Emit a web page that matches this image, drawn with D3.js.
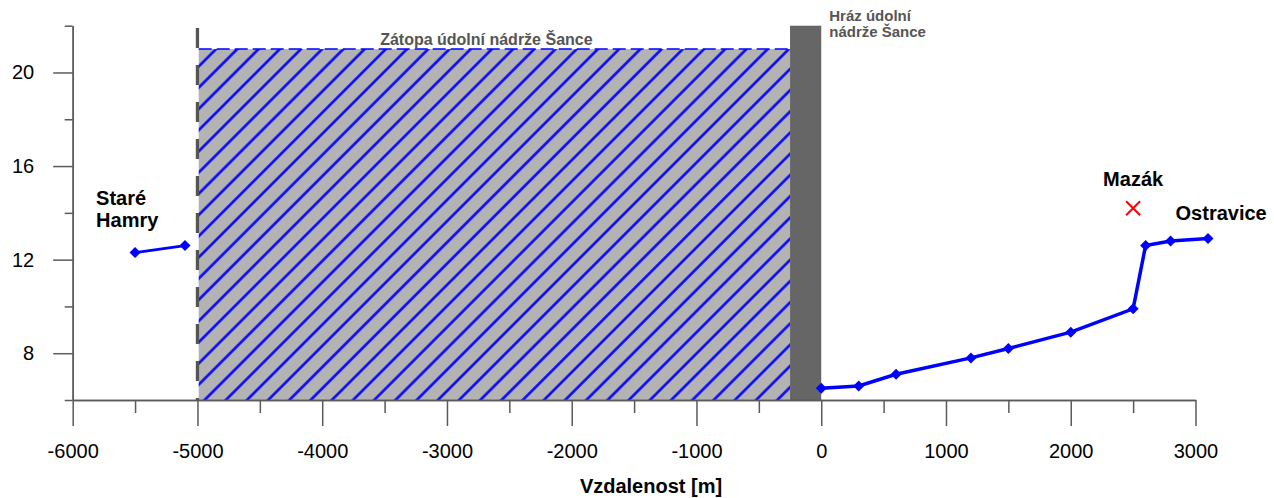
<!DOCTYPE html>
<html>
<head>
<meta charset="utf-8">
<script src="https://cdn.jsdelivr.net/npm/d3@7/dist/d3.min.js"></script>
<style>
  html, body { margin: 0; padding: 0; background: #fff; }
  svg { display: block; font-family: "Liberation Sans", Arial, sans-serif; }
</style>
</head>
<body>
<svg id="chart" width="1274" height="498"></svg>
<script>
// ---- data ----
const upstreamX = [-5500, -5100];
const upstreamY = [12.3, 12.6];
const downstreamX = [0, 300, 600, 1200, 1500, 2000, 2500, 2600, 2800, 3100];
const downstreamY = [6.5, 6.6, 7.1, 7.8, 8.2, 8.9, 9.9, 12.6, 12.8, 12.9];
const mazakX = [2500];
const mazakY = [14.2];
const reservoirX = [-4990, -250];   // Zátopa extent
const reservoirLevel = [21];
const damX = [-250, 0];
const damTop = [22];
const reservoirEdgeX = [-5000];
const reservoirEdgeTop = [21.9];
const xMajorTicks = [-6000, -5000, -4000, -3000, -2000, -1000, 0, 1000, 2000, 3000];
const xMinorTicks = [-5500, -4500, -3500, -2500, -1500, -500, 500, 1500, 2500];
const yMajorTicks = [8, 12, 16, 20];
const yMinorTicks = [6, 10, 14, 18, 22];
const xDomain = [-6000, 3000];
const yDomain = [6, 22];
const xTitle = "Vzdalenost [m]";

// ---- layout ----
const svg = d3.select("#chart");
const L = 72.7, R = 1195.5, T = 25.7, B = 400;
const x = d3.scaleLinear().domain(xDomain).range([L, R]);
const y = d3.scaleLinear().domain(yDomain).range([B, T]);
const axisColor = "#5a5a5a";

// hatch pattern
const defs = svg.append("defs");
const pat = defs.append("pattern")
  .attr("id", "hatch").attr("patternUnits", "userSpaceOnUse")
  .attr("width", 15).attr("height", 15)
  .attr("patternTransform", "rotate(-45)");
pat.append("rect").attr("width", 15).attr("height", 15).attr("fill", "#b3b3b3");
pat.append("line").attr("x1", -2).attr("x2", 17).attr("y1", 7.5).attr("y2", 7.5)
  .attr("stroke", "#0000ff").attr("stroke-width", 2.5);

// reservoir
svg.append("rect")
  .attr("x", x(reservoirX[0])).attr("y", y(reservoirLevel[0]))
  .attr("width", x(reservoirX[1]) - x(reservoirX[0]))
  .attr("height", y(yDomain[0]) - y(reservoirLevel[0]))
  .attr("fill", "url(#hatch)");
svg.append("line")
  .attr("x1", x(reservoirX[0])).attr("x2", x(reservoirX[1]))
  .attr("y1", y(reservoirLevel[0])).attr("y2", y(reservoirLevel[0]))
  .attr("stroke", "#0000ff").attr("stroke-width", 1.5)
  .attr("stroke-dasharray", "13,5");
// dashed edge
svg.append("line")
  .attr("x1", x(reservoirEdgeX[0])).attr("x2", x(reservoirEdgeX[0]))
  .attr("y1", y(reservoirEdgeTop[0])).attr("y2", y(yDomain[0]))
  .attr("stroke", "#555555").attr("stroke-width", 3.3)
  .attr("stroke-dasharray", "20,17");
// dam
svg.append("rect")
  .attr("x", x(damX[0])).attr("y", y(damTop[0]))
  .attr("width", x(damX[1]) - x(damX[0]))
  .attr("height", y(yDomain[0]) - y(damTop[0]))
  .attr("fill", "#666666");

// axes
function styleAxis(g) {
  g.select(".domain").attr("stroke", axisColor).attr("stroke-width", 1.5);
  g.selectAll(".tick line").attr("stroke", axisColor).attr("stroke-width", 1.5);
  g.selectAll(".tick text").attr("fill", "#000").attr("font-size", 20);
}
const gxMinor = svg.append("g").attr("transform", `translate(0,${B})`)
  .call(d3.axisBottom(x).tickValues(xMinorTicks).tickSize(13).tickSizeOuter(0).tickFormat(""));
styleAxis(gxMinor);
const gxMajor = svg.append("g").attr("transform", `translate(0,${B})`)
  .call(d3.axisBottom(x).tickValues(xMajorTicks).tickSize(26).tickSizeOuter(0).tickPadding(18));
styleAxis(gxMajor);
gxMajor.selectAll(".tick text").text(d => String(d));

const gyMinor = svg.append("g").attr("transform", `translate(${L},0)`)
  .call(d3.axisLeft(y).tickValues(yMinorTicks).tickSize(8).tickSizeOuter(0).tickFormat(""));
styleAxis(gyMinor);
const gyMajor = svg.append("g").attr("transform", `translate(${L},0)`)
  .call(d3.axisLeft(y).tickValues(yMajorTicks).tickSize(19.5).tickSizeOuter(0).tickPadding(19));
styleAxis(gyMajor);

// x title
svg.append("text").attr("x", 651).attr("y", 493)
  .attr("text-anchor", "middle").attr("font-size", 20).attr("font-weight", "bold")
  .text(xTitle);

// series
const blue = "#0000ff";
const line = d3.line().x(d => x(d[0])).y(d => y(d[1]));
const up = upstreamX.map((v, i) => [v, upstreamY[i]]);
const down = downstreamX.map((v, i) => [v, downstreamY[i]]);
svg.append("path").attr("d", line(up)).attr("fill", "none").attr("stroke", blue).attr("stroke-width", 2.6);
svg.append("path").attr("d", line(down)).attr("fill", "none").attr("stroke", blue).attr("stroke-width", 3.5);
const diamond = "M0,-5.5L5.5,0L0,5.5L-5.5,0Z";
svg.selectAll(".mk").data(up.concat(down)).enter().append("path")
  .attr("d", diamond).attr("fill", blue)
  .attr("transform", d => `translate(${x(d[0])},${y(d[1])})`);

// Mazák
const mz = mazakX.map((v, i) => [v, mazakY[i]]);
svg.selectAll(".mz").data(mz).enter().append("path")
  .attr("d", "M-7,-7L7,7M-7,7L7,-7").attr("stroke", "#ff0000").attr("stroke-width", 2)
  .attr("fill", "none")
  .attr("transform", d => `translate(${x(d[0])},${y(d[1])})`);

// annotations
function label(txt, px, py, opts) {
  const t = svg.append("text").attr("x", px).attr("y", py)
    .attr("font-weight", "bold").attr("font-size", opts.size).attr("fill", opts.fill)
    .attr("text-anchor", opts.anchor || "start");
  return t.text(txt);
}
label("Staré", x(upstreamX[0]) - 39, y(upstreamY[0]) - 48, {size: 20, fill: "#000"});
label("Hamry", x(upstreamX[0]) - 39, y(upstreamY[0]) - 26, {size: 20, fill: "#000"});
label("Mazák", x(mazakX[0]), y(mazakY[0]) - 22, {size: 20, fill: "#000", anchor: "middle"});
label("Ostravice", x(downstreamX[8]) + 5, y(downstreamY[8]) - 21, {size: 20, fill: "#000"});
label("Zátopa údolní nádrže Šance", (x(reservoirX[0]) + x(reservoirX[1])) / 2 - 8, y(reservoirLevel[0]) - 4,
  {size: 16, fill: "#555555", anchor: "middle"});
label("Hráz údolní", x(damX[1]) + 8, y(damTop[0]) - 5, {size: 15, fill: "#555555"});
label("nádrže Šance", x(damX[1]) + 8, y(damTop[0]) + 11, {size: 15, fill: "#555555"});
</script>
</body>
</html>
